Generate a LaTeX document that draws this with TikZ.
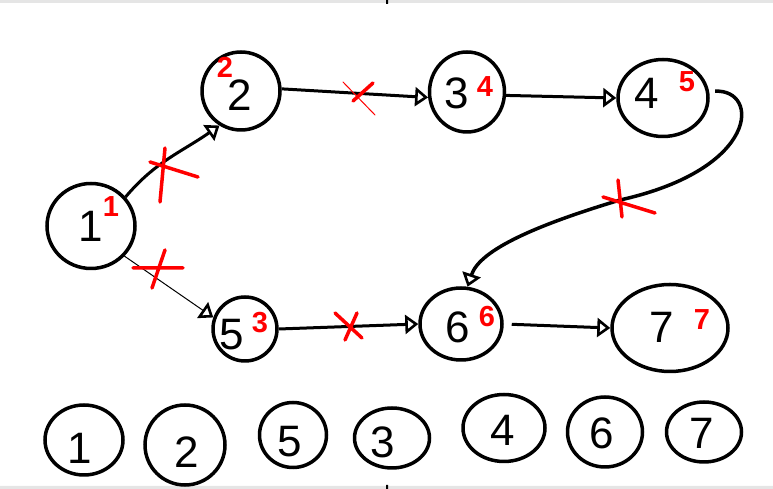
\documentclass[tikz,border=0pt]{standalone}
\usepackage{fontspec}
\setmainfont{Liberation Sans}
\usetikzlibrary{arrows.meta}
\usetikzlibrary{shapes.geometric}

\begin{document}
\begin{tikzpicture}[
	x=1pt, y=1pt,
	vertex/.style={draw, ellipse, line width=3.5pt, inner sep=0pt},
	digit/.style={inner sep=0pt, font=\fontsize{44}{44}\selectfont},
	rank/.style={inner sep=0pt, color=red, font=\bfseries\fontsize{29}{29}\selectfont},
	link/.style={line width=3pt, -{Triangle[open, length=13pt, width=19pt, line width=2.6pt]}},
	cut/.style={color=red, line width=3.5pt, line cap=round},
]
	\useasboundingbox (0,0) rectangle (773,489);

	% screen edges
	\fill[color=gray!20] (0,486) rectangle (773,489) (0,0) rectangle (773,3);
	\fill[color=black] (386,485) rectangle (388,489) (386,0) rectangle (388,4);

	% graph
	\foreach \i/\x/\y/\w/\h in {1/91/263/88/85, 2/241/398/78/78, 3/467/397/75/80,
		4/663/391/90/77, 5/245/160/64/64, 6/461/165/82/72, 7/670/161/116/87}{
		\node[vertex, minimum width=\w pt, minimum height=\h pt] (n\i) at (\x,\y) {};
	}
	\foreach \i/\x/\y in {1/91/263, 2/240/394, 3/457/396, 4/647/396,
		5/232/154, 6/458/162, 7/662/162}{
		\node[digit] (d\i) at (\x,\y) {\i};
	}
	\foreach \i/\x/\y/\r in {1/111/282/1, 2/225/422/2, 5/260/166/3, 3/485/402/4,
		4/687/407/5, 6/487/172/6, 7/702/169/7}{
		\node[rank] (r\i) at (\x,\y) {\r};
	}

	\draw[link] (n1.40) to[out=50, in=215] (n2.238);
	\draw[link, line width=1pt] (n1.-42) -- (n5.160);
	\draw[link] (n2.3) -- (n3.188);
	\draw[link] (n3.-5) -- (n4.west);
	\draw[link] (n5.east) -- (n6.west);
	\draw[link, shorten <=8pt] (n6.east) -- (n7.west);
	\coordinate (bend) at (620,289);
	\draw[link, line width=3.5pt, shorten <=6pt]
		(n4.8) .. controls (760,400) and (760,320) .. (bend)
		.. controls (540,265) and (480,240) .. (n6.80);

	% cut edges
	\draw[cut] (165,341) -- (160,287) (150,327) -- (198,312);
	\draw[cut] (165,239) -- (152,201) (133,221) -- (183,221);
	\draw[cut] (373,406) -- (353,388);
	\draw[cut, line width=1pt] (343,407) -- (375,374);
	\draw[cut] (357,176) -- (345,149) (335,176) -- (362,151);
	\draw[cut] (618,309) -- (622,272) (603,292) -- (655,276);

	% order
	\foreach \i/\x/\y/\w/\h in {1/84/49/78/70, 2/185/44/80/80, 5/293/54/67/65,
		3/392/51/75/60, 4/504/61/82/67, 6/605/57/75/70, 7/704/57/75/60}{
		\node[vertex, minimum width=\w pt, minimum height=\h pt] (b\i) at (\x,\y) {};
	}
	\foreach \i/\x/\y in {1/80/41, 2/187/37, 5/290/47, 3/383/47,
		4/503/59, 6/602/56, 7/702/56}{
		\node[digit] (e\i) at (\x,\y) {\i};
	}
\end{tikzpicture}
\end{document}
